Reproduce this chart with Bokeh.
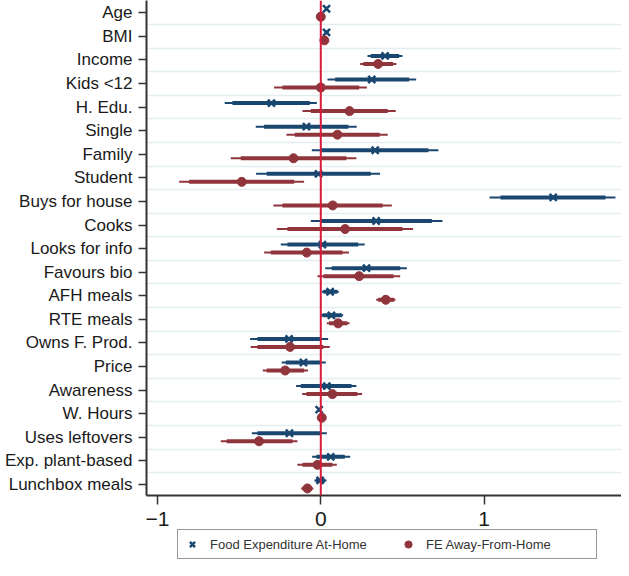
from bokeh.plotting import figure
from bokeh.layouts import column
from bokeh.models import (Range1d, FixedTicker, Span, Legend, LegendItem,
                          ColumnDataSource)
from bokeh.transform import dodge
from bokeh.embed import file_html
from bokeh.resources import INLINE

labels = ["Age", "BMI", "Income", "Kids <12", "H. Edu.", "Single", "Family",
          "Student", "Buys for house", "Cooks", "Looks for info", "Favours bio",
          "AFH meals", "RTE meals", "Owns F. Prod.", "Price", "Awareness",
          "W. Hours", "Uses leftovers", "Exp. plant-based", "Lunchbox meals"]

# Food Expenditure At-Home
home_coef = [0.035, 0.035, 0.394, 0.312, -0.302, -0.088, 0.333, -0.014, 1.423, 0.339, 0.010,
             0.280, 0.057, 0.065, -0.194, -0.106, 0.037, -0.010, -0.192, 0.061, -0.004]
home_lo90 = [0.030, 0.025, 0.306, 0.088, -0.541, -0.347, 0.000, -0.331, 1.100, 0.000, -0.204,
             0.067, 0.016, 0.010, -0.388, -0.214, -0.122, -0.014, -0.388, -0.027, -0.031]
home_hi90 = [0.040, 0.045, 0.480, 0.541, -0.067, 0.169, 0.659, 0.306, 1.743, 0.680, 0.229,
             0.486, 0.102, 0.129, 0.000, 0.000, 0.188, -0.006, 0.000, 0.147, 0.027]
home_lo95 = [0.028, 0.022, 0.286, 0.041, -0.588, -0.398, -0.055, -0.396, 1.033, -0.061, -0.245,
             0.027, 0.006, 0.000, -0.433, -0.239, -0.151, -0.016, -0.422, -0.053, -0.039]
home_hi95 = [0.042, 0.048, 0.500, 0.584, -0.024, 0.220, 0.720, 0.363, 1.804, 0.745, 0.269,
             0.527, 0.110, 0.137, 0.045, 0.031, 0.218, -0.004, 0.037, 0.180, 0.035]

# FE Away-From-Home
away_coef = [0.000, 0.022, 0.351, 0.000, 0.176, 0.102, -0.167, -0.484, 0.073, 0.149, -0.086,
             0.235, 0.398, 0.106, -0.188, -0.218, 0.071, 0.006, -0.378, -0.020, -0.082]
away_lo90 = [-0.004, 0.015, 0.261, -0.235, -0.061, -0.159, -0.490, -0.806, -0.235, -0.204, -0.306,
             0.016, 0.351, 0.051, -0.388, -0.331, -0.088, 0.002, -0.576, -0.112, -0.112]
away_hi90 = [0.004, 0.029, 0.443, 0.235, 0.410, 0.361, 0.157, -0.163, 0.378, 0.500, 0.133,
             0.445, 0.449, 0.163, 0.016, -0.102, 0.224, 0.010, -0.173, 0.071, -0.053]
away_lo95 = [-0.006, 0.012, 0.241, -0.286, -0.112, -0.210, -0.551, -0.867, -0.290, -0.269, -0.347,
             -0.020, 0.339, 0.037, -0.429, -0.355, -0.114, 0.000, -0.612, -0.143, -0.120]
away_hi95 = [0.006, 0.032, 0.463, 0.282, 0.459, 0.410, 0.218, -0.102, 0.435, 0.565, 0.173,
             0.486, 0.457, 0.176, 0.055, -0.078, 0.253, 0.012, -0.143, 0.098, -0.045]

x_ticks = [-1, 0, 1]
series_names = ["Food Expenditure At-Home", "FE Away-From-Home"]

NAVY = "#1a476f"
MAROON = "#90353b"
FONT = "Liberation Sans"

n = len(labels)
pos = list(range(n))

src_home = ColumnDataSource(dict(y=pos, coef=home_coef, lo90=home_lo90, hi90=home_hi90,
                                 lo95=home_lo95, hi95=home_hi95))
src_away = ColumnDataSource(dict(y=pos, coef=away_coef, lo90=away_lo90, hi90=away_hi90,
                                 lo95=away_lo95, hi95=away_hi95))

home_marker = dict(marker="x", size=10, line_color=NAVY, line_width=2.5)
away_marker = dict(marker="circle", size=9, fill_color=MAROON, line_color=MAROON)

p = figure(width=621, height=528, output_backend="svg", toolbar_location=None,
           x_range=Range1d(-1.067, 1.841), y_range=Range1d(20.47, -0.52),
           min_border_top=0, min_border_right=0, min_border_bottom=0, min_border_left=146)
p.outline_line_color = None
p.background_fill_color = "white"
p.border_fill_color = "white"

# grid lines between categories
p.xgrid.visible = False
p.ygrid.ticker = FixedTicker(ticks=[i + 0.5 for i in range(n - 1)])
p.ygrid.grid_line_color = "#e4eef1"
p.ygrid.grid_line_width = 1.5

for src, off, col in ((src_home, -0.17, NAVY), (src_away, 0.17, MAROON)):
    yy = dodge("y", off)
    p.segment(x0="lo95", y0=yy, x1="hi95", y1=yy, source=src, line_color=col, line_width=2)
    p.segment(x0="lo90", y0=yy, x1="hi90", y1=yy, source=src, line_color=col, line_width=4)

p.scatter(x="coef", y=dodge("y", -0.17), source=src_home, **home_marker)
p.scatter(x="coef", y=dodge("y", 0.17), source=src_away, **away_marker)

p.add_layout(Span(location=0, dimension="height", line_color="#d81b3a", line_width=2))

# axes
p.yaxis.ticker = FixedTicker(ticks=pos)
p.yaxis.major_label_overrides = {i: lab for i, lab in enumerate(labels)}
p.yaxis.major_label_text_font = FONT
p.yaxis.major_label_text_font_size = "17px"
p.yaxis.major_label_text_color = "#1a1a1a"
p.yaxis.major_tick_out = 8
p.yaxis.major_tick_in = 0
p.yaxis.minor_tick_out = 0
p.yaxis.minor_tick_in = 0
p.yaxis.major_label_standoff = 6
p.yaxis.axis_line_width = 2
p.yaxis.axis_line_color = "#333333"
p.yaxis.major_tick_line_color = "#333333"
p.yaxis.major_tick_line_width = 1.5

p.xaxis.ticker = FixedTicker(ticks=x_ticks)
p.xaxis.major_label_text_font = FONT
p.xaxis.major_label_text_font_size = "21px"
p.xaxis.major_label_text_color = "#1a1a1a"
p.xaxis.major_tick_out = 9
p.xaxis.major_tick_in = 0
p.xaxis.minor_tick_out = 0
p.xaxis.minor_tick_in = 0
p.xaxis.major_label_standoff = 7
p.xaxis.axis_line_width = 2
p.xaxis.axis_line_color = "#333333"
p.xaxis.major_tick_line_color = "#333333"
p.xaxis.major_tick_line_width = 1.5

# legend strip below the chart (series drawn outside its visible window,
# only their legend glyphs show)
pl = figure(width=621, height=32, output_backend="svg", toolbar_location=None,
            x_range=Range1d(0, 1), y_range=Range1d(-2, -1),
            min_border_top=0, min_border_right=0, min_border_bottom=0, min_border_left=0)
pl.axis.visible = False
pl.grid.visible = False
pl.outline_line_color = None
pl.border_fill_color = "white"
pl.background_fill_color = "white"
lr_home = pl.scatter(x="coef", y="y", source=src_home, **home_marker)
lr_away = pl.scatter(x="coef", y="y", source=src_away, **away_marker)

legend = Legend(items=[LegendItem(label=series_names[0], renderers=[lr_home], index=0),
                       LegendItem(label=series_names[1], renderers=[lr_away], index=0)],
                orientation="horizontal", location=(31, 1))
legend.border_line_color = "#333333"
legend.border_line_width = 1
legend.label_text_font = FONT
legend.label_text_font_size = "13px"
legend.label_text_color = "#333333"
legend.glyph_width = 18
legend.glyph_height = 18
legend.label_standoff = 9
legend.label_width = 165
legend.label_height = 18
legend.spacing = 24
legend.padding = 5
legend.margin = 0
legend.background_fill_color = "white"
pl.add_layout(legend, "center")

layout = column(p, pl, spacing=0)
open("out.html", "w").write(file_html(layout, INLINE))
